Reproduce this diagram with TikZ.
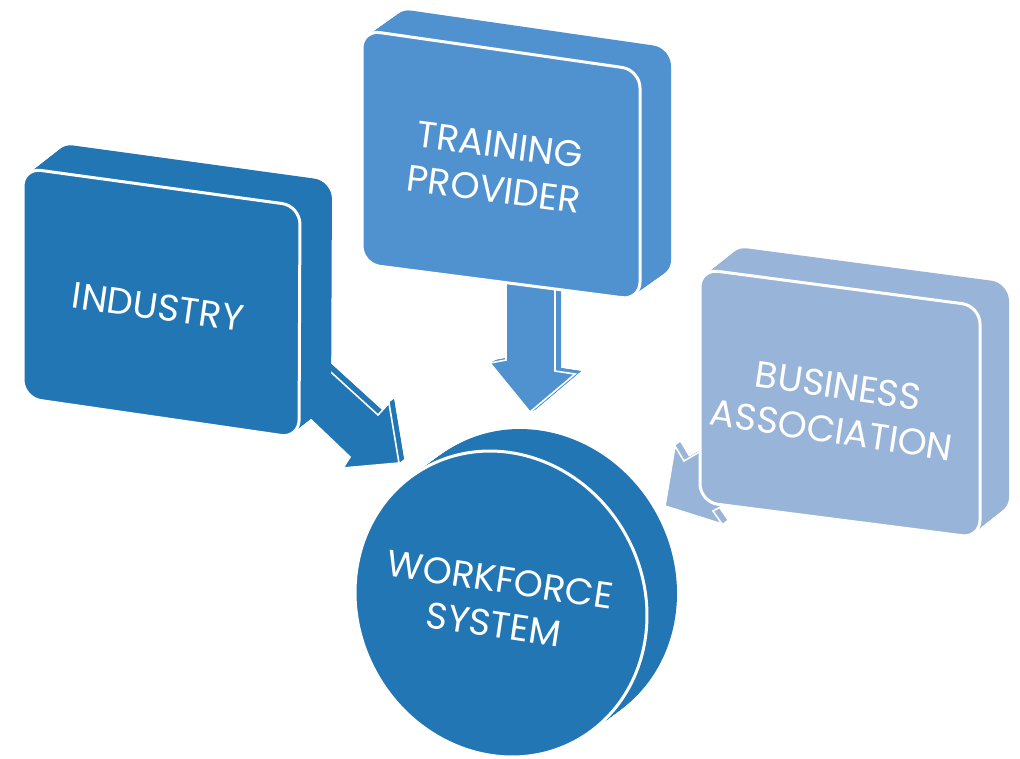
\documentclass[tikz,border=0pt]{standalone}
\usepackage{fontspec}
\setmainfont{Poppins}
\definecolor{indblue}{HTML}{2176B3}
\definecolor{trblue}{HTML}{5092CF}
\definecolor{bablue}{HTML}{98B4D8}
\newcommand\extrude[5]{%
  \foreach \i in {0,...,24}{\fill[#1, shift={({#2*\i/24},{#3*\i/24})}] #4;}
  \fill[#1, draw=white, line width=#5] #4;}
\tikzset{
  lbl/.style={text=white, align=center, inner sep=0pt,
    font=\fontsize{37}{45}\selectfont},
}
\begin{document}
\begin{tikzpicture}[x=1pt,y=-1pt]
\fill[white] (0,0) rectangle (1020,758);
\useasboundingbox (0,0) rectangle (1020,758);
% workforce system disc
\extrude{indblue}{30}{-22}{(501,604) ellipse [x radius=142.7pt, y radius=156pt, rotate=29.2]}{3pt}
% arrows
\extrude{indblue}{5}{-4}{(300,344) -- (378,415) -- (389,403) -- (399,463) -- (343,468) -- (350,457) -- (285,395) -- cycle}{1.6pt}
\extrude{trblue}{6}{-3}{(506,270) -- (506,360) -- (490,363) -- (530,412) -- (575,374) -- (555,371) -- (555,270) -- cycle}{1.6pt}
\extrude{bablue}{5}{-4}{(675,446) -- (684,461) -- (740,428) -- (770,480) -- (713,511) -- (722,524) -- (665,506) -- cycle}{1.6pt}
% boxes
\extrude{indblue, rounded corners=18pt}{32}{-25}{(23,168) -- (300,206) -- (299,438) -- (23,398) -- cycle}{3pt}
\extrude{trblue, rounded corners=18pt}{31}{-22}{(362,30) -- (640,70) -- (640,300) -- (362,264) -- cycle}{3pt}
\extrude{bablue, rounded corners=18pt}{29}{-23}{(700,269) -- (980,306) -- (980,538) -- (700,502) -- cycle}{3pt}
% labels
\node[lbl, rotate=-8] (tind) at (158,307) {INDUSTRY};
\node[lbl, rotate=-7.5] (ttr) at (497,167) {TRAINING\\PROVIDER};
\node[lbl, rotate=-8.5] (tba) at (835,408) {BUSINESS\\ASSOCIATION};
\node[lbl, rotate=-8.5] (twf) at (497,602) {WORKFORCE\\SYSTEM};
\end{tikzpicture}
\end{document}
